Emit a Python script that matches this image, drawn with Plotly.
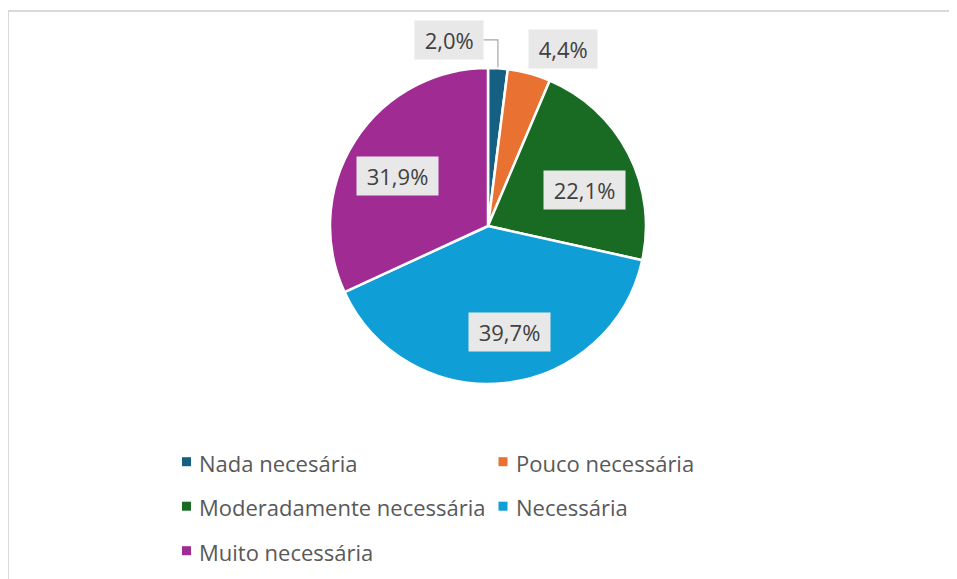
import math

import plotly.graph_objects as go

# data
categories = ["Nada necesária", "Pouco necessária", "Moderadamente necessária",
              "Necessária", "Muito necessária"]
shares = [2.0, 4.4, 22.1, 39.7, 31.9]
share_labels = ["2,0%", "4,4%", "22,1%", "39,7%", "31,9%"]
colors = ["#156082", "#E97132", "#196B24", "#0F9ED5", "#A02B93"]

# the page body has an 8px margin, so the figure is a bit smaller than the window
PAGE_OFF = 8
W, H = 957 - PAGE_OFF, 579 - PAGE_OFF
CX, CY, R = 488, 226, 158  # pie centre / radius in window px
FONT = "Open Sans"
NB = "\u00a0"


def px(x, y):
    # window pixel -> paper coordinate
    return (x - PAGE_OFF) / W, 1 - (y - PAGE_OFF) / H


fig = go.Figure()

d_x0, d_y1 = px(CX - R, CY - R)
d_x1, d_y0 = px(CX + R, CY + R)
fig.add_trace(go.Pie(
    labels=categories,
    values=shares,
    sort=False,
    direction="clockwise",
    rotation=0,
    marker=dict(colors=colors, line=dict(color="white", width=2.5)),
    textinfo="none",
    hoverinfo="label+percent",
    showlegend=False,
    domain=dict(x=[d_x0, d_x1], y=[d_y0, d_y1]),
))

# data labels in grey boxes, placed along each slice's mid angle, then nudged like Excel does
label_radius = [1.165, 1.165, 0.66, 0.66, 0.66]
label_nudge = [(-51, -2), (27, 1), (4, 12), (10, 2), (-3, 6)]
total = sum(shares)
cum = 0
shapes = []
annotations = []
for i, v in enumerate(shares):
    mid = (cum + v / 2) / total * 2 * math.pi
    cum += v
    lx = CX + R * label_radius[i] * math.sin(mid) + label_nudge[i][0]
    ly = CY - R * label_radius[i] * math.cos(mid) + label_nudge[i][1]
    ax, ay = px(lx, ly)
    annotations.append(dict(
        x=ax, y=ay, xref="paper", yref="paper", text=NB + share_labels[i] + NB, showarrow=False,
        xanchor="center", yanchor="middle",
        font=dict(family=FONT, size=22, color="#404040"),
        bgcolor="#E8E8E8", borderpad=4,
    ))
    if label_radius[i] > 1 and abs(label_nudge[i][0]) > 40:
        # leader line from the box to the slice edge
        ex = CX + R * math.sin(mid)
        ey = CY - R * math.cos(mid)
        x0 = lx + 35
        pts = [px(x0, ly - 0.5), px(ex, ly - 0.5), px(ex, ey - 1)]
        path = "M{},{} L{},{} L{},{}".format(*[c for p in pts for c in p])
        shapes.append(dict(type="path", xref="paper", yref="paper", path=path,
                           line=dict(color="#A6A6A6", width=1.2)))

# legend, two columns
for i, name in enumerate(categories):
    col, row = i % 2, i // 2
    sx = 182 + col * 316.5
    sy = 461.7 + row * 44.5
    x0, y0 = px(sx, sy + 4.5)
    x1, y1 = px(sx + 9, sy - 4.5)
    shapes.append(dict(type="rect", xref="paper", yref="paper", x0=x0, y0=y0, x1=x1, y1=y1,
                       fillcolor=colors[i], line=dict(width=0)))
    tx, ty = px(sx + 15, sy + 1)
    annotations.append(dict(
        x=tx, y=ty, xref="paper", yref="paper", text=name, showarrow=False,
        xanchor="left", yanchor="middle",
        font=dict(family=FONT, size=22, color="#595959"),
    ))

# chart area frame (only left and top edges visible in the crop)
fx, fy = px(8, 11)
shapes.append(dict(type="path", xref="paper", yref="paper",
                   path=f"M{fx},0 L{fx},{fy} L1,{fy}",
                   line=dict(color="#D9D9D9", width=2)))

fig.update_layout(
    width=W, height=H,
    margin=dict(l=0, r=0, t=0, b=0),
    paper_bgcolor="white",
    plot_bgcolor="white",
    shapes=shapes,
    annotations=annotations,
    showlegend=False,
)

fig.write_html("out.html")
